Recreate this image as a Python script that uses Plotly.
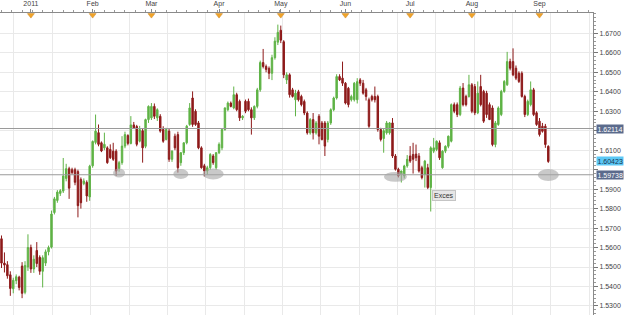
import pandas as pd
import plotly.graph_objects as go

# ---------------- data (daily GBP/USD candles) ----------------
dates = pd.bdate_range("2010-12-20", periods=187)

open_ = [1.5645,1.5520,1.5512,1.5460,1.5388,1.5430,1.5448,1.5505,1.5370,1.5500,
         1.5600,1.5490,1.5585,1.5550,1.5478,1.5520,1.5578,1.5602,1.5780,1.5842,
         1.5878,1.5890,1.5955,1.6005,1.6000,1.6000,1.5990,1.5950,1.5928,1.5935,
         1.5860,1.6020,1.6140,1.6190,1.6138,1.6112,1.6112,1.6104,1.6095,1.6095,
         1.6006,1.6036,1.6121,1.6175,1.6135,1.6230,1.6222,1.6146,1.6200,1.6120,
         1.6257,1.6266,1.6325,1.6266,1.6274,1.6206,1.6155,1.6198,1.6053,1.6172,
         1.6180,1.6036,1.6087,1.6138,1.6232,1.6368,1.6300,1.6240,1.6112,1.6020,
         1.5993,1.6010,1.6070,1.6010,1.6087,1.6112,1.6206,1.6308,1.6342,1.6317,
         1.6385,1.6351,1.6266,1.6351,1.6351,1.6308,1.6266,1.6325,1.6410,1.6550,
         1.6530,1.6520,1.6495,1.6575,1.6655,1.6716,1.6657,1.6461,1.6487,1.6410,
         1.6359,1.6400,1.6376,1.6350,1.6291,1.6189,1.6257,1.6189,1.6274,1.6240,
         1.6240,1.6155,1.6240,1.6308,1.6368,1.6478,1.6470,1.6444,1.6418,1.6359,
         1.6359,1.6359,1.6461,1.6444,1.6410,1.6359,1.6376,1.6376,1.6376,1.6206,
         1.6160,1.6189,1.6189,1.6240,1.6070,1.6002,1.5976,1.5968,1.6019,1.6070,
         1.6078,1.6080,1.6070,1.6010,1.5976,1.6010,1.5908,1.6095,1.6104,1.6138,
         1.6010,1.6095,1.6120,1.6146,1.6334,1.6334,1.6283,1.6419,1.6376,1.6376,
         1.6436,1.6427,1.6292,1.6427,1.6402,1.6393,1.6334,1.6317,1.6129,1.6232,
         1.6283,1.6402,1.6436,1.6555,1.6555,1.6521,1.6495,1.6495,1.6376,1.6283,
         1.6334,1.6410,1.6292,1.6249,1.6223,1.6223,1.6120]
high = [1.5662,1.5575,1.5530,1.5478,1.5445,1.5462,1.5455,1.5525,1.5530,1.5668,
        1.5615,1.5560,1.5628,1.5560,1.5560,1.5590,1.5610,1.5790,1.5860,1.5895,
        1.5900,1.6060,1.6030,1.6015,1.6010,1.6010,1.6000,1.5960,1.5955,1.5945,
        1.6025,1.6150,1.6283,1.6232,1.6145,1.6190,1.6120,1.6130,1.6138,1.6105,
        1.6045,1.6172,1.6195,1.6182,1.6275,1.6245,1.6230,1.6225,1.6210,1.6262,
        1.6330,1.6342,1.6340,1.6315,1.6285,1.6223,1.6215,1.6210,1.6100,1.6185,
        1.6195,1.6090,1.6140,1.6230,1.6342,1.6402,1.6310,1.6250,1.6120,1.6030,
        1.6020,1.6085,1.6080,1.6090,1.6140,1.6210,1.6320,1.6350,1.6350,1.6427,
        1.6395,1.6360,1.6280,1.6360,1.6365,1.6320,1.6330,1.6420,1.6560,1.6620,
        1.6540,1.6530,1.6590,1.6680,1.6745,1.6740,1.6665,1.6500,1.6495,1.6420,
        1.6410,1.6410,1.6385,1.6360,1.6300,1.6265,1.6291,1.6250,1.6285,1.6250,
        1.6250,1.6250,1.6315,1.6375,1.6490,1.6490,1.6555,1.6450,1.6425,1.6385,
        1.6450,1.6470,1.6470,1.6461,1.6420,1.6370,1.6385,1.6427,1.6385,1.6215,
        1.6210,1.6250,1.6245,1.6265,1.6080,1.6010,1.5995,1.6025,1.6075,1.6121,
        1.6138,1.6129,1.6085,1.6020,1.6050,1.6030,1.6120,1.6163,1.6150,1.6150,
        1.6100,1.6125,1.6175,1.6340,1.6345,1.6345,1.6430,1.6445,1.6385,1.6487,
        1.6445,1.6440,1.6453,1.6487,1.6410,1.6405,1.6345,1.6330,1.6250,1.6325,
        1.6410,1.6460,1.6605,1.6570,1.6623,1.6535,1.6505,1.6505,1.6385,1.6360,
        1.6453,1.6420,1.6300,1.6265,1.6240,1.6235,1.6125]
low = [1.5495,1.5472,1.5440,1.5352,1.5365,1.5412,1.5380,1.5340,1.5360,1.5480,
       1.5470,1.5470,1.5500,1.5460,1.5395,1.5505,1.5560,1.5595,1.5770,1.5830,
       1.5865,1.5880,1.5940,1.5850,1.5975,1.5920,1.5755,1.5800,1.5920,1.5835,
       1.5840,1.6010,1.6130,1.6120,1.6090,1.6100,1.6030,1.6055,1.6045,1.5968,
       1.5990,1.6025,1.6110,1.6125,1.6130,1.6210,1.6120,1.6140,1.6036,1.6110,
       1.6240,1.6255,1.6260,1.6250,1.6190,1.6138,1.6150,1.6040,1.6040,1.6100,
       1.5985,1.6020,1.6075,1.6130,1.6225,1.6220,1.6225,1.6105,1.6005,1.5965,
       1.5975,1.6000,1.6025,1.6000,1.6080,1.6100,1.6200,1.6300,1.6320,1.6310,
       1.6300,1.6250,1.6255,1.6290,1.6300,1.6180,1.6255,1.6315,1.6400,1.6520,
       1.6500,1.6465,1.6460,1.6565,1.6640,1.6650,1.6470,1.6440,1.6370,1.6370,
       1.6274,1.6350,1.6325,1.6280,1.6180,1.6180,1.6155,1.6180,1.6130,1.6150,
       1.6070,1.6140,1.6230,1.6300,1.6360,1.6455,1.6430,1.6335,1.6320,1.6350,
       1.6350,1.6340,1.6430,1.6385,1.6355,1.6215,1.6350,1.6345,1.6195,1.6145,
       1.6087,1.6180,1.6180,1.6060,1.5995,1.5960,1.5934,1.5955,1.6010,1.6035,
       1.5980,1.6044,1.5985,1.5950,1.5908,1.5900,1.5785,1.6085,1.6095,1.6050,
       1.6005,1.6085,1.6110,1.6140,1.6290,1.6270,1.6275,1.6325,1.6325,1.6370,
       1.6290,1.6280,1.6285,1.6325,1.6240,1.6266,1.6255,1.6120,1.6115,1.6225,
       1.6275,1.6395,1.6430,1.6510,1.6480,1.6460,1.6445,1.6370,1.6270,1.6275,
       1.6325,1.6275,1.6225,1.6170,1.6190,1.6112,1.6035]
close = [1.5520,1.5510,1.5455,1.5390,1.5432,1.5450,1.5395,1.5365,1.5508,1.5600,
         1.5490,1.5540,1.5518,1.5478,1.5548,1.5578,1.5600,1.5772,1.5850,1.5885,
         1.5892,1.5968,1.6005,1.5905,1.5985,1.5935,1.5815,1.5830,1.5942,1.5865,
         1.6018,1.6145,1.6198,1.6130,1.6096,1.6130,1.6036,1.6061,1.6053,1.5993,
         1.6036,1.6121,1.6180,1.6135,1.6230,1.6215,1.6130,1.6206,1.6112,1.6257,
         1.6325,1.6325,1.6274,1.6308,1.6198,1.6146,1.6206,1.6053,1.6095,1.6112,
         1.6010,1.6087,1.6138,1.6223,1.6317,1.6232,1.6232,1.6112,1.6010,1.5993,
         1.6010,1.6078,1.6036,1.6087,1.6130,1.6206,1.6317,1.6342,1.6325,1.6385,
         1.6308,1.6266,1.6274,1.6300,1.6308,1.6266,1.6325,1.6410,1.6550,1.6530,
         1.6515,1.6495,1.6575,1.6660,1.6705,1.6665,1.6487,1.6487,1.6385,1.6376,
         1.6393,1.6359,1.6334,1.6291,1.6189,1.6257,1.6189,1.6240,1.6172,1.6155,
         1.6121,1.6240,1.6308,1.6368,1.6478,1.6461,1.6444,1.6342,1.6334,1.6376,
         1.6444,1.6452,1.6444,1.6393,1.6376,1.6223,1.6359,1.6359,1.6206,1.6155,
         1.6200,1.6240,1.6240,1.6070,1.6002,1.5968,1.5993,1.6019,1.6053,1.6044,
         1.6053,1.6061,1.5993,1.5959,1.6044,1.5908,1.6112,1.6112,1.6146,1.6061,
         1.6095,1.6120,1.6172,1.6334,1.6300,1.6283,1.6419,1.6334,1.6334,1.6436,
         1.6300,1.6292,1.6393,1.6334,1.6249,1.6283,1.6257,1.6129,1.6240,1.6317,
         1.6402,1.6453,1.6555,1.6521,1.6487,1.6470,1.6453,1.6376,1.6283,1.6351,
         1.6410,1.6283,1.6232,1.6180,1.6197,1.6129,1.6042]

# price-axis labels
ytick_vals = [1.53, 1.54, 1.55, 1.56, 1.57, 1.58, 1.59, 1.60, 1.61, 1.62, 1.63, 1.64,
              1.65, 1.66, 1.67]

# horizontal levels and price tags on the right axis
level_prices = [1.62114, 1.59738]
last_price = 1.60423

# touches of the support level (highlighted with grey ellipses)
touch_dates = ["2011-02-14", "2011-03-15", "2011-03-30", "2011-06-24", "2011-09-06"]
touch_prices = [1.5983, 1.5978, 1.5978, 1.5963, 1.5973]

note_date = "2011-07-12"
note_price = 1.5866
note_text = "Exces"

# ---------------- derived positions ----------------
n = len(dates)
idx = list(range(n))
date_pos = {d.strftime("%Y-%m-%d"): i for i, d in enumerate(dates)}

tick_idx, tick_txt = [], []
for k in range(1, n):
    if dates[k].month != dates[k - 1].month:
        tick_idx.append(k)
        tick_txt.append(str(dates[k].year) if dates[k].month == 1 else dates[k].strftime("%b"))

# axis labels hidden where an opaque price tag sits on top of them
tag_prices = level_prices + [last_price]
ytick_txt = ["" if min(abs(v - t) for t in tag_prices) < 0.0045 else f"{v:.4f}"
             for v in ytick_vals]

X_RANGE = [-0.51, 201.2]
Y_RANGE = [1.525357, 1.680459]
PX_X = 2.94      # pixels per candle
PX_Y = 1960.0    # pixels per 1.0 of price

GREEN = "#5fb346"
RED = "#8e1a1a"
FONT = "Liberation Sans"

fig = go.Figure()

# invisible trace on helper axis that carries the fixed-spacing vertical grid
fig.add_trace(go.Scatter(x=[X_RANGE[0]], y=[Y_RANGE[0]], xaxis="x2", yaxis="y",
                         mode="markers", marker=dict(opacity=0), hoverinfo="skip",
                         showlegend=False))

fig.add_trace(go.Candlestick(
    x=idx, open=open_, high=high, low=low, close=close,
    increasing=dict(line=dict(color=GREEN, width=1), fillcolor=GREEN),
    decreasing=dict(line=dict(color=RED, width=1), fillcolor=RED),
    whiskerwidth=0, showlegend=False, hoverinfo="skip"))

# month markers (orange triangles) under the top axis line
fig.add_trace(go.Scatter(x=tick_idx, y=[0.993] * len(tick_idx), xaxis="x", yaxis="y2",
                         mode="markers", cliponaxis=False, hoverinfo="skip",
                         marker=dict(symbol="triangle-down", size=6, color="#f2a428",
                                     line=dict(color="#c8801a", width=0.5)),
                         showlegend=False))

shapes = []
for lv in level_prices:
    shapes.append(dict(type="line", xref="paper", x0=0, x1=1, yref="y", y0=lv, y1=lv,
                       line=dict(color="#9a9a9a", width=1), layer="above"))

ell_w = [12, 15, 21, 23, 21]
ell_h = [9, 10, 11, 10, 12]
for d, p, w, h in zip(touch_dates, touch_prices, ell_w, ell_h):
    c = date_pos[d]
    shapes.append(dict(type="circle", xref="x", yref="y",
                       x0=c - w / 2 / PX_X, x1=c + w / 2 / PX_X,
                       y0=p - h / 2 / PX_Y, y1=p + h / 2 / PX_Y,
                       fillcolor="rgba(165,165,165,0.6)", line=dict(width=0), layer="above"))

annotations = [
    dict(x=date_pos[note_date] + 0.6, y=note_price, xref="x", yref="y", text=note_text,
         showarrow=False, xanchor="left", yanchor="middle",
         font=dict(family=FONT, size=7, color="#333"),
         bgcolor="#e6e6e6", bordercolor="#c4c4c4", borderwidth=1, borderpad=1),
]
tag_styles = [("#5b6b8c", "#ffffff"), ("#5b6b8c", "#ffffff")]
for lv, (bg, fg) in zip(level_prices, tag_styles):
    annotations.append(dict(x=1, y=lv, xref="paper", yref="y", text=f"{lv:.5f}",
                            showarrow=False, xanchor="left", yanchor="middle", xshift=3,
                            font=dict(family=FONT, size=7, color=fg),
                            bgcolor=bg, borderpad=0.5))
annotations.append(dict(x=1, y=last_price, xref="paper", yref="y", text=f"{last_price:.5f}",
                        showarrow=False, xanchor="left", yanchor="middle", xshift=3,
                        font=dict(family=FONT, size=7, color="#1a3550"),
                        bgcolor="#5cc8f5", borderpad=0.5))

fig.update_layout(
    width=625, height=315,
    margin=dict(l=0, r=32, t=11, b=0),
    paper_bgcolor="white", plot_bgcolor="white",
    showlegend=False,
    shapes=shapes, annotations=annotations,
    xaxis=dict(range=X_RANGE, side="top", tickmode="array", tickvals=tick_idx,
               ticktext=tick_txt, ticks="outside", ticklen=3, tickcolor="#888",
               tickfont=dict(family=FONT, size=7, color="#444"),
               showgrid=False, zeroline=False, showline=True, linecolor="#8a8a8a",
               linewidth=1, rangeslider=dict(visible=False), fixedrange=True,
               minor=dict(dtick=3.5, tick0=0, ticks="outside", ticklen=2,
                          tickcolor="#999", showgrid=False)),
    xaxis2=dict(range=X_RANGE, overlaying="x", anchor="y", tick0=4.25, dtick=13.04,
                showgrid=True, gridcolor="#e9e9e9", gridwidth=1, showticklabels=False,
                ticks="", zeroline=False, showline=False),
    yaxis=dict(range=Y_RANGE, side="right", tickmode="array", tickvals=ytick_vals,
               ticktext=ytick_txt,
               ticks="outside", ticklen=4, tickcolor="#777",
               tickfont=dict(family=FONT, size=7, color="#444"),
               showgrid=True, gridcolor="#e9e9e9", zeroline=False,
               showline=True, linecolor="#8a8a8a", linewidth=1,
               minor=dict(dtick=0.002, tick0=1.5, ticks="outside", ticklen=2,
                          tickcolor="#999", showgrid=False)),
    yaxis2=dict(range=[0, 1], overlaying="y", visible=False),
)

fig.write_html("out.html")
